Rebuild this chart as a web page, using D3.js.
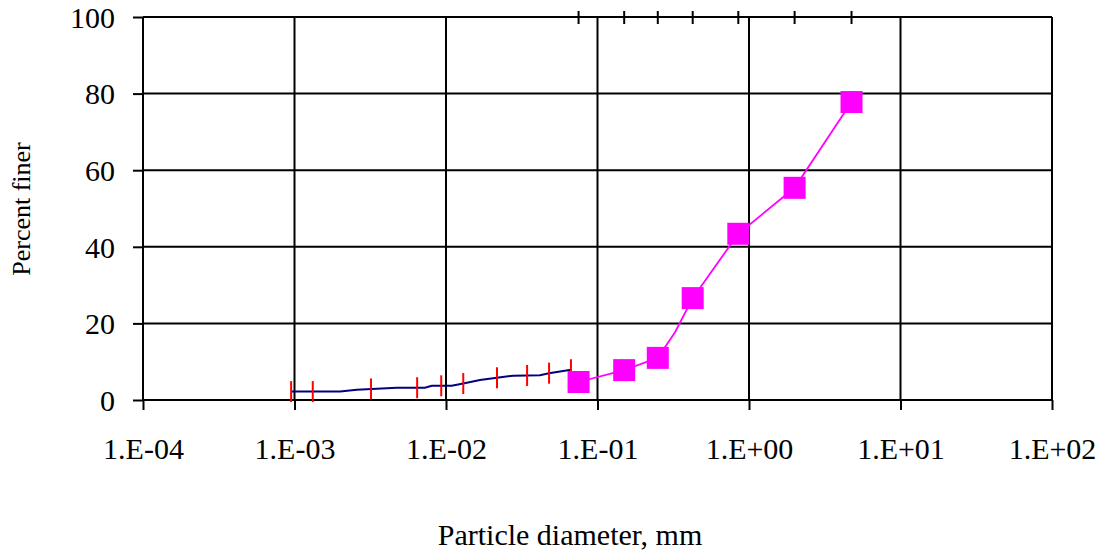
<!DOCTYPE html>
<html>
<head>
<meta charset="utf-8">
<script src="https://cdn.jsdelivr.net/npm/d3@7"></script>
<style>
    html, body { margin: 0; padding: 0; background: #ffffff; }
    svg text { font-family: "Liberation Serif", "Times New Roman", serif; fill: #000000; }
</style>
</head>
<body>
<svg id="chart" width="1104" height="556"></svg>
<script>
// decades shown on the x axis (log scale, mm)
const xDecades = [1e-4, 1e-3, 1e-2, 1e-1, 1e0, 1e1, 1e2];
const yTicks = [0, 20, 40, 60, 80, 100];

// sieve analysis (markers) and the sieve sizes marked on the top edge
const sieveDiam = [0.075, 0.15, 0.25, 0.425, 0.85, 2.0, 4.75];
const sievePct = [4.7, 7.8, 11.0, 26.6, 43.4, 55.4, 77.8];

// pink connecting line has one extra vertex between 0.25 and 0.425
const sieveLineDiam = [0.075, 0.15, 0.25, 0.325, 0.425, 0.85, 2.0, 4.75];
const sieveLinePct = [4.7, 7.8, 11.0, 17.7, 26.6, 43.4, 55.4, 77.8];

// hydrometer readings (red tick marks)
const hydroDiam = [0.00095, 0.00132, 0.0032, 0.00645, 0.0093, 0.013, 0.0217, 0.0343, 0.0479, 0.0668];
const hydroPct = [2.2, 2.2, 2.9, 3.2, 3.7, 4.3, 5.8, 6.4, 7.0, 7.9];

// hydrometer curve (navy line)
const hydroLineDiam = [0.00095, 0.0020, 0.00258, 0.00473, 0.00726, 0.00806, 0.0109, 0.013, 0.01675, 0.0217, 0.0278, 0.0417, 0.0479, 0.0668];
const hydroLinePct = [2.2, 2.2, 2.7, 3.2, 3.2, 3.7, 3.7, 4.3, 5.2, 5.8, 6.35, 6.45, 7.0, 7.9];

const props = {
    left: 143, right: 1052, top: 17, bottom: 400,
    gridColor: '#000000', gridWidth: 2,
    lineBlue: '#000080', tickRed: '#ff0000', pink: '#ff00ff',
    markerSize: 22, tickLabelSize: 30,
};

const svg = d3.select('#chart');

const x = d3.scaleLog().domain([1e-4, 1e2]).range([props.left, props.right]);
const y = d3.scaleLinear().domain([0, 100]).range([props.bottom, props.top]);

const fmtExp = d => {
    const e = Math.round(Math.log10(d));
    return '1.E' + (e < 0 ? '-' : '+') + String(Math.abs(e)).padStart(2, '0');
};

// Gridlines
const grid = svg.append('g').attr('class', 'grid');
grid.selectAll('line.h').data(yTicks).enter().append('line')
    .attr('x1', props.left).attr('x2', props.right)
    .attr('y1', d => y(d)).attr('y2', d => y(d))
    .style('stroke', props.gridColor).style('stroke-width', props.gridWidth);
grid.selectAll('line.v').data(xDecades).enter().append('line')
    .attr('x1', d => x(d)).attr('x2', d => x(d))
    .attr('y1', props.top).attr('y2', props.bottom)
    .style('stroke', props.gridColor).style('stroke-width', props.gridWidth);

// Axes
const yAxis = svg.append('g')
    .attr('transform', `translate(${props.left},0)`)
    .call(d3.axisLeft(y).tickValues(yTicks).tickSize(10).tickPadding(18).tickFormat(d3.format('d')));
yAxis.select('.domain').remove();
yAxis.selectAll('line').style('stroke', '#000').style('stroke-width', 2);
yAxis.selectAll('text').style('font-size', props.tickLabelSize + 'px').attr('dy', '0.34em');

const xAxis = svg.append('g')
    .attr('transform', `translate(0,${props.bottom})`)
    .call(d3.axisBottom(x).tickValues(xDecades).tickSize(10).tickFormat(fmtExp));
xAxis.select('.domain').remove();
xAxis.selectAll('line').style('stroke', '#000').style('stroke-width', 2);
xAxis.selectAll('text').style('font-size', props.tickLabelSize + 'px').attr('y', 59).attr('dy', 0);

// Sieve size marks on top edge
svg.append('g').selectAll('line').data(sieveDiam).enter().append('line')
    .attr('x1', d => x(d)).attr('x2', d => x(d))
    .attr('y1', props.top - 6).attr('y2', props.top + 7)
    .style('stroke', '#000').style('stroke-width', 2);

// Hydrometer curve
const hydroLine = hydroLineDiam.map((d, i) => ({ d: d, p: hydroLinePct[i] }));
svg.append('path').datum(hydroLine)
    .attr('d', d3.line().x(d => x(d.d)).y(d => y(d.p)))
    .attr('fill', 'none')
    .style('stroke', props.lineBlue).style('stroke-width', 2);

const hydro = hydroDiam.map((d, i) => ({ d: d, p: hydroPct[i] }));
svg.append('g').selectAll('line').data(hydro).enter().append('line')
    .attr('x1', d => x(d.d)).attr('x2', d => x(d.d))
    .attr('y1', d => y(d.p) - 10.5).attr('y2', d => y(d.p) + 10.5)
    .style('stroke', props.tickRed).style('stroke-width', 2);

// Sieve curve
const sieveLine = sieveLineDiam.map((d, i) => ({ d: d, p: sieveLinePct[i] }));
svg.append('path').datum(sieveLine)
    .attr('d', d3.line().x(d => x(d.d)).y(d => y(d.p)))
    .attr('fill', 'none')
    .style('stroke', props.pink).style('stroke-width', 1.8);

const sieve = sieveDiam.map((d, i) => ({ d: d, p: sievePct[i] }));
const s = props.markerSize;
svg.append('g').selectAll('rect').data(sieve).enter().append('rect')
    .attr('x', d => x(d.d) - s / 2).attr('y', d => y(d.p) - s / 2)
    .attr('width', s).attr('height', s)
    .attr('fill', props.pink);

// Axis titles
svg.append('text')
    .attr('transform', `translate(30,209) rotate(-90)`)
    .attr('text-anchor', 'middle')
    .style('font-size', '26px')
    .text('Percent finer');

svg.append('text')
    .attr('x', 570).attr('y', 545)
    .attr('text-anchor', 'middle')
    .style('font-size', '30px')
    .text('Particle diameter, mm');
</script>
</body>
</html>
